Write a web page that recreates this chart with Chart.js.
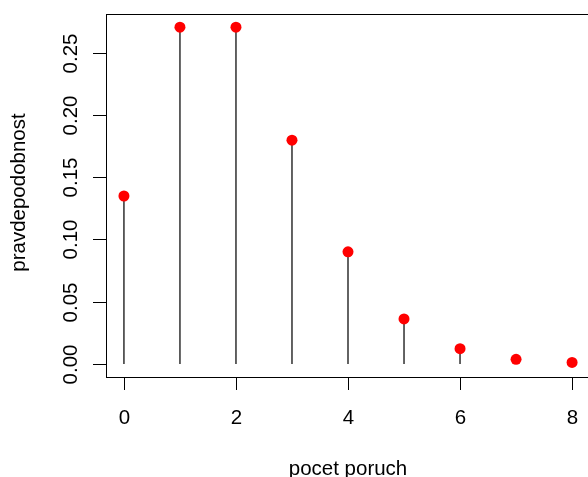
<!DOCTYPE html>
<html>
<head>
<meta charset="utf-8">
<script src="https://cdn.jsdelivr.net/npm/chart.js@4/dist/chart.umd.min.js"></script>
<style>
  html, body { margin: 0; padding: 0; background: #fff; overflow: hidden; }
  #wrap { width: 588px; height: 477px; overflow: hidden; position: relative; }
</style>
</head>
<body>
<div id="wrap"><canvas id="pmf" width="600" height="477"></canvas></div>
<script>
// pocet poruch (x) and their probabilities
var counts = [0, 1, 2, 3, 4, 5, 6, 7, 8];
var probs = [0.135, 0.271, 0.271, 0.180, 0.090, 0.036, 0.012, 0.0034, 0.0009];
var xTicks = [0, 2, 4, 6, 8];
var yTicks = [0, 0.05, 0.10, 0.15, 0.20, 0.25];
var yTickLabels = ['0.00', '0.05', '0.10', '0.15', '0.20', '0.25'];
var xTitle = 'pocet poruch';
var yTitle = 'pravdepodobnost';

var FONT = '20.5px "Liberation Sans", Arial, sans-serif';

var points = counts.map(function (c, i) { return { x: c, y: probs[i] }; });

// R style box, axes and labels drawn against the chart's own scales
var rAxes = {
    id: 'rAxes',
    afterDraw: function (chart) {
        var ctx = chart.ctx;
        var a = chart.chartArea;
        var xs = chart.scales.x, ys = chart.scales.y;
        ctx.save();
        ctx.strokeStyle = '#000';
        ctx.lineWidth = 1;
        ctx.strokeRect(Math.round(a.left) + 0.5, Math.round(a.top) + 0.5,
            Math.round(a.right - a.left), Math.round(a.bottom - a.top));

        ctx.fillStyle = '#000';
        ctx.font = FONT;

        // x axis
        ctx.textAlign = 'center';
        ctx.textBaseline = 'alphabetic';
        xTicks.forEach(function (t) {
            var px = Math.round(xs.getPixelForValue(t)) + 0.5;
            ctx.beginPath();
            ctx.moveTo(px, a.bottom);
            ctx.lineTo(px, a.bottom + 13);
            ctx.stroke();
            ctx.fillText(String(t), px, 424);
        });
        ctx.fillText(xTitle, (a.left + a.right) / 2, 475);

        // y axis
        yTicks.forEach(function (t, i) {
            var py = Math.round(ys.getPixelForValue(t)) + 0.5;
            ctx.beginPath();
            ctx.moveTo(a.left, py);
            ctx.lineTo(a.left - 13, py);
            ctx.stroke();
            ctx.save();
            ctx.translate(77, py);
            ctx.rotate(-Math.PI / 2);
            ctx.fillText(yTickLabels[i], 0, 0);
            ctx.restore();
        });
        ctx.save();
        ctx.translate(25, (a.top + a.bottom) / 2 - 3);
        ctx.rotate(-Math.PI / 2);
        ctx.fillText(yTitle, 0, 0);
        ctx.restore();
        ctx.restore();
    }
};

var ctx = document.getElementById('pmf').getContext('2d');
var pmfChart = new Chart(ctx, {
    type: 'scatter',
    data: {
        datasets: [{
            type: 'scatter',
            data: points,
            pointRadius: 5.5,
            pointBackgroundColor: '#ff0000',
            pointBorderColor: '#ff0000',
            pointBorderWidth: 0,
            order: 0
        }, {
            type: 'bar',
            data: points,
            backgroundColor: '#444444',
            barThickness: 1,
            borderWidth: 0,
            order: 1
        }]
    },
    options: {
        responsive: false,
        animation: false,
        layout: { padding: { left: 106, top: 14, right: 10, bottom: 100 } },
        plugins: { legend: { display: false }, tooltip: { enabled: false } },
        scales: {
            x: { type: 'linear', min: -0.32, max: 8.32, offset: false, display: false },
            y: { type: 'linear', min: -0.0108, max: 0.2816, display: false }
        }
    },
    plugins: [rAxes]
});
</script>
</body>
</html>
